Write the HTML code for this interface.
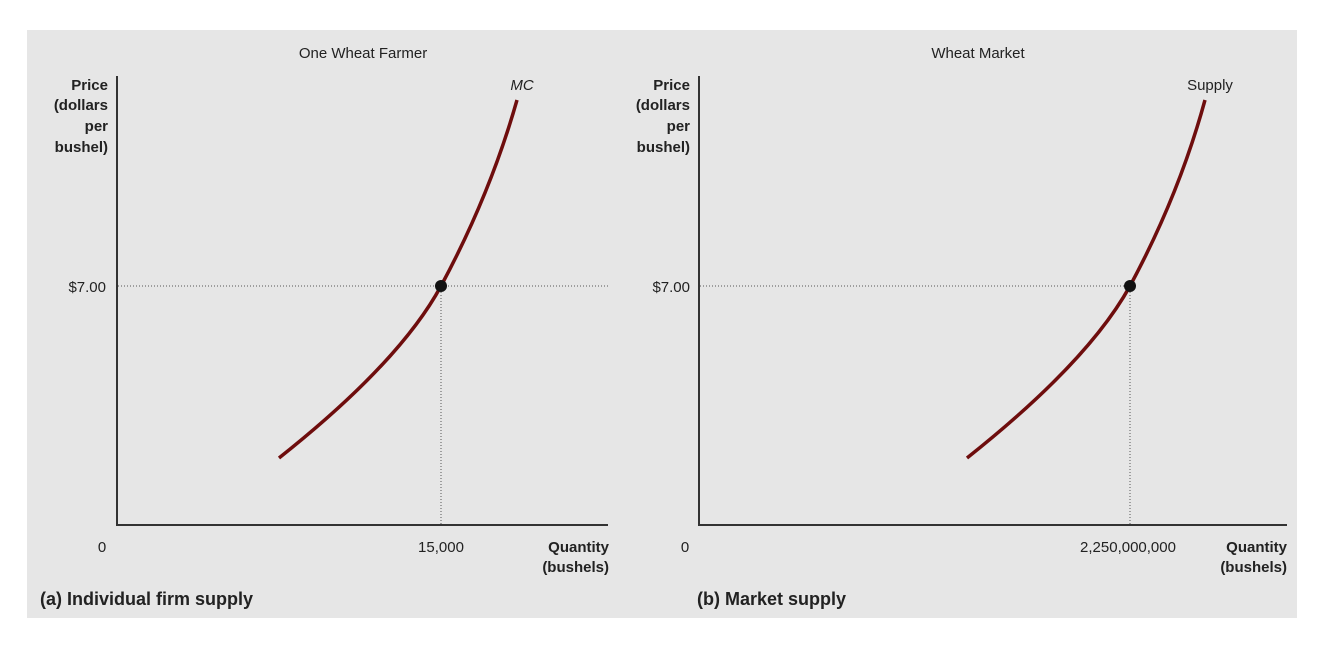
<!DOCTYPE html>
<html><head><style>
body{margin:0;background:#fff;width:1320px;height:653px;overflow:hidden}
</style></head><body>
<svg width="1320" height="653" xmlns="http://www.w3.org/2000/svg" font-family="Liberation Sans, sans-serif">
<rect x="27" y="30" width="1270" height="588" fill="#e6e6e6"/>
<g id="a">
<text x="363" y="58" font-size="15" text-anchor="middle" fill="#222">One Wheat Farmer</text>
<g font-size="15" font-weight="bold" text-anchor="end" fill="#222">
<text x="108" y="90">Price</text><text x="108" y="110">(dollars</text><text x="108" y="131">per</text><text x="108" y="152">bushel)</text>
</g>
<line x1="117" y1="76" x2="117" y2="526" stroke="#333" stroke-width="2"/>
<line x1="116" y1="525" x2="608" y2="525" stroke="#333" stroke-width="2"/>
<line x1="118" y1="286" x2="608" y2="286" stroke="#555" stroke-width="1" stroke-dasharray="1,2"/>
<line x1="441" y1="286" x2="441" y2="524" stroke="#555" stroke-width="1" stroke-dasharray="1,2"/>
<text x="106" y="292" font-size="15" text-anchor="end" fill="#222">$7.00</text>
<text x="102" y="552" font-size="15" text-anchor="middle" fill="#222">0</text>
<text x="441" y="552" font-size="15" text-anchor="middle" fill="#222">15,000</text>
<text x="609" y="552" font-size="15" font-weight="bold" text-anchor="end" fill="#222">Quantity</text>
<text x="609" y="572" font-size="15" font-weight="bold" text-anchor="end" fill="#222">(bushels)</text>
<text x="40" y="605" font-size="18" font-weight="bold" fill="#222">(a) Individual firm supply</text>
<path d="M279,458 Q400,362 441,286 Q490,195 517,100" fill="none" stroke="#6e0d0d" stroke-width="3.5"/>
<circle cx="441" cy="286" r="6" fill="#111"/>
<text x="522" y="90" font-size="15" font-style="italic" text-anchor="middle" fill="#222">MC</text>
</g>
<g>
<text x="978" y="58" font-size="15" text-anchor="middle" fill="#222">Wheat Market</text>
<g font-size="15" font-weight="bold" text-anchor="end" fill="#222">
<text x="690" y="90">Price</text><text x="690" y="110">(dollars</text><text x="690" y="131">per</text><text x="690" y="152">bushel)</text>
</g>
<line x1="699" y1="76" x2="699" y2="526" stroke="#333" stroke-width="2"/>
<line x1="698" y1="525" x2="1287" y2="525" stroke="#333" stroke-width="2"/>
<line x1="700" y1="286" x2="1130" y2="286" stroke="#555" stroke-width="1" stroke-dasharray="1,2"/>
<line x1="1130" y1="286" x2="1130" y2="524" stroke="#555" stroke-width="1" stroke-dasharray="1,2"/>
<text x="690" y="292" font-size="15" text-anchor="end" fill="#222">$7.00</text>
<text x="685" y="552" font-size="15" text-anchor="middle" fill="#222">0</text>
<text x="1128" y="552" font-size="15" text-anchor="middle" fill="#222">2,250,000,000</text>
<text x="1287" y="552" font-size="15" font-weight="bold" text-anchor="end" fill="#222">Quantity</text>
<text x="1287" y="572" font-size="15" font-weight="bold" text-anchor="end" fill="#222">(bushels)</text>
<text x="697" y="605" font-size="18" font-weight="bold" fill="#222">(b) Market supply</text>
<path d="M967,458 Q1088,362 1130,286 Q1179,195 1205,100" fill="none" stroke="#6e0d0d" stroke-width="3.5"/>
<circle cx="1130" cy="286" r="6" fill="#111"/>
<text x="1210" y="90" font-size="15" text-anchor="middle" fill="#222">Supply</text>
</g>
</svg>
</body></html>
